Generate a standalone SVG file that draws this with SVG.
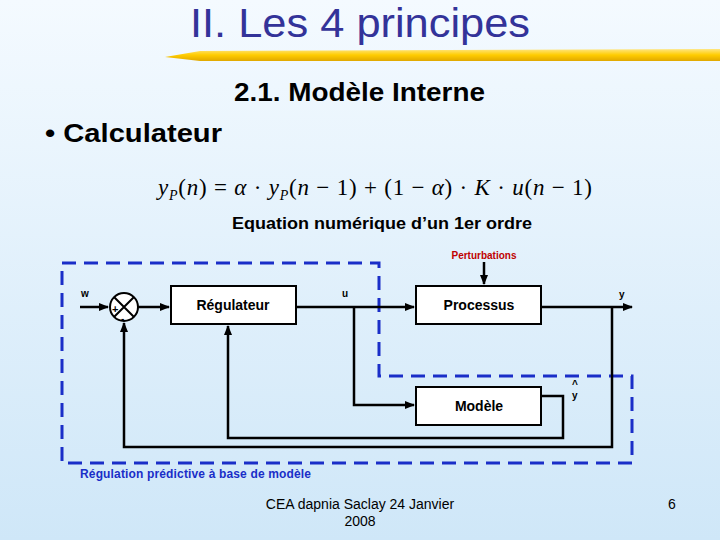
<svg xmlns="http://www.w3.org/2000/svg" width="720" height="540" viewBox="0 0 720 540">
<defs>
<linearGradient id="bg" x1="0" y1="0" x2="0" y2="1"><stop offset="0" stop-color="#f4faff"/><stop offset="1" stop-color="#cfe7f8"/></linearGradient>
<linearGradient id="bar" x1="0" y1="0" x2="0" y2="1"><stop offset="0" stop-color="#ffe680"/><stop offset="0.5" stop-color="#ffcc00"/><stop offset="1" stop-color="#e0a800"/></linearGradient>
<marker id="ar" markerWidth="10" markerHeight="8" refX="9" refY="4" orient="auto" markerUnits="userSpaceOnUse"><path d="M0,0L10,4L0,8z" fill="#000"/></marker>
<style>
.t{font-family:"Liberation Sans",Arial,sans-serif}
.b{font-family:"Liberation Sans",Arial,sans-serif;font-weight:bold;font-size:14px}
.box{fill:#fff;stroke:#000;stroke-width:2}
.ln{fill:none;stroke:#000;stroke-width:2.5}
.dash{fill:none;stroke:#1a2ec8;stroke-width:3;stroke-dasharray:14,8}
</style>
</defs>
<rect width="720" height="540" fill="url(#bg)"/>
<text class="t" x="190" y="37" font-size="40" fill="#333399" textLength="340" lengthAdjust="spacingAndGlyphs">II. Les 4 principes</text>
<path d="M165,57 L200,51 L720,49 L720,61 L200,61 Z" fill="url(#bar)"/>
<text class="t" x="234" y="101" font-size="25" font-weight="bold" textLength="251" lengthAdjust="spacingAndGlyphs">2.1. Modèle Interne</text>
<text class="t" x="45" y="142" font-size="25" font-weight="bold" textLength="177" lengthAdjust="spacingAndGlyphs">• Calculateur</text>
<text x="158" y="195" font-family="Liberation Serif,serif" font-size="23" font-style="italic" textLength="434">y<tspan font-size="14" dy="5">P</tspan><tspan dy="-5" font-style="normal">(</tspan>n<tspan font-style="normal">) = </tspan>α<tspan font-style="normal"> · </tspan>y<tspan font-size="14" dy="5">P</tspan><tspan dy="-5" font-style="normal">(</tspan>n<tspan font-style="normal"> − 1) + (1 − </tspan>α<tspan font-style="normal">) · </tspan>K<tspan font-style="normal"> · </tspan>u<tspan font-style="normal">(</tspan>n<tspan font-style="normal"> − 1)</tspan></text>
<text class="t" x="232" y="229" font-size="16" font-weight="bold" textLength="300" lengthAdjust="spacingAndGlyphs">Equation numérique d’un 1er ordre</text>
<g id="frame"><path class="dash" d="M62,263 H379 V376 H632 V463 H62 Z"/>
<text class="t" x="80" y="478" font-size="12" font-weight="bold" fill="#1a2ec8" textLength="231">Régulation prédictive à base de modèle</text></g>
<g id="sum"><circle cx="124" cy="307" r="14" fill="#fff" stroke="#000" stroke-width="2"/><path d="M114,297L134,317M134,297L114,317" stroke="#000" stroke-width="2"/><text class="t" x="112" y="313" font-size="11" font-weight="bold">+</text><text class="t" x="121" y="322" font-size="10" font-weight="bold">-</text></g>
<g id="reg"><rect class="box" x="171" y="286" width="125" height="38"/><text class="b" x="233" y="310" text-anchor="middle">Régulateur</text></g>
<g id="proc"><rect class="box" x="416" y="286" width="125" height="38"/><text class="b" x="479" y="310" text-anchor="middle">Processus</text></g>
<g id="mod"><rect class="box" x="416" y="387" width="125" height="38"/><text class="b" x="479" y="411" text-anchor="middle">Modèle</text></g>
<g id="connectors">
<path class="ln" d="M80,307H108" marker-end="url(#ar)"/>
<path class="ln" d="M138,307H169" marker-end="url(#ar)"/>
<path class="ln" d="M296,307H414" marker-end="url(#ar)"/>
<path class="ln" d="M354,307V405H414" marker-end="url(#ar)"/>
<path class="ln" d="M541,307H632" marker-end="url(#ar)"/>
<path class="ln" d="M612,307V447H124V323" marker-end="url(#ar)"/>
<path class="ln" d="M541,396H563V438H228V326" marker-end="url(#ar)"/>
<path class="ln" d="M484,262V284" marker-end="url(#ar)"/>
</g>
<g id="labels" class="t" font-size="10" font-weight="bold">
<text x="81" y="297">w</text><text x="342" y="297">u</text><text x="619" y="298">y</text>
<text x="572" y="399">y</text><text x="572" y="388">^</text>
<text x="484" y="259" text-anchor="middle" fill="#c00000">Perturbations</text>
</g>
<text class="t" x="360" y="509" font-size="14" text-anchor="middle">CEA dapnia Saclay 24 Janvier</text>
<text class="t" x="360" y="526" font-size="14" text-anchor="middle">2008</text>
<text class="t" x="672" y="509" font-size="14" text-anchor="middle">6</text>
</svg>
